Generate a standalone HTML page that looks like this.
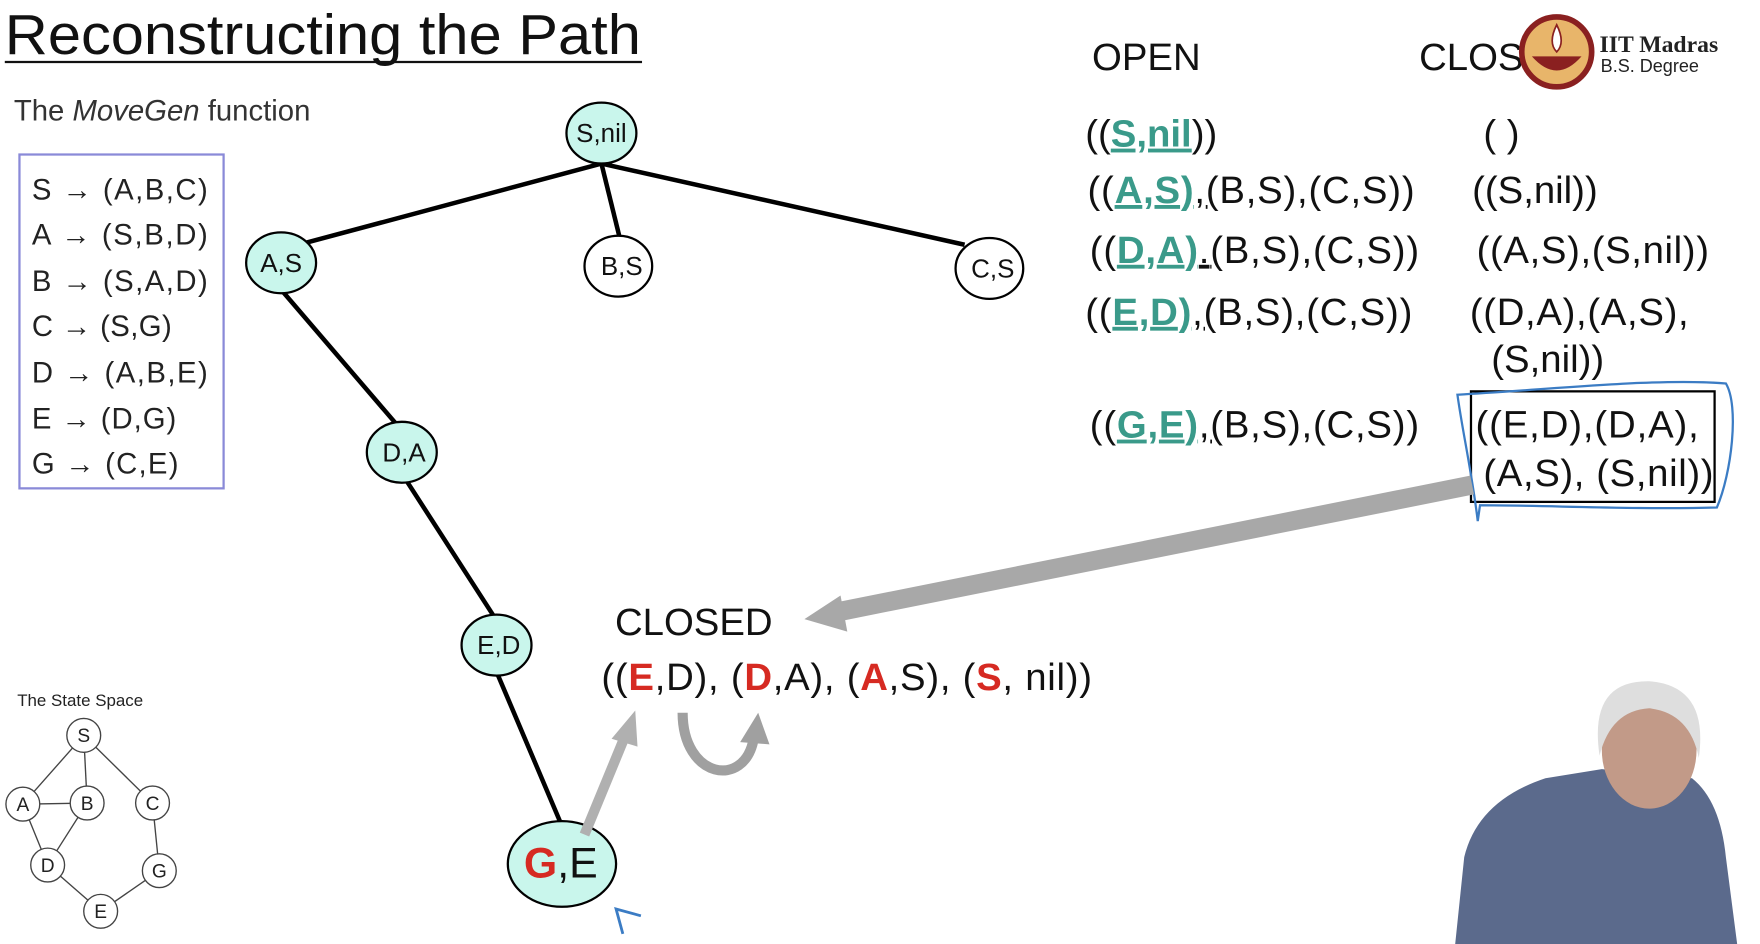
<!DOCTYPE html>
<html><head><meta charset="utf-8"><style>
html,body{margin:0;padding:0;background:#fff;width:1760px;height:944px;overflow:hidden}
svg{display:block}
text{font-family:"Liberation Sans",Arial,sans-serif}
</style></head><body>
<svg width="1760" height="944" viewBox="0 0 1560 837" xmlns="http://www.w3.org/2000/svg">
<rect width="1560" height="837" fill="#fff"/>
<text x="4" y="48" font-size="50" fill="#111" textLength="564" lengthAdjust="spacingAndGlyphs">Reconstructing the Path</text>
<line x1="4" y1="55" x2="569" y2="55" stroke="#111" stroke-width="2"/>
<text x="12" y="107" font-size="26" fill="#333">The <tspan font-style="italic">MoveGen</tspan> function</text>
<rect x="17" y="137" width="181" height="296" fill="#fff" stroke="#8a8ad8" stroke-width="2"/>
<g font-size="26" fill="#222">
<text x="28" y="177" textLength="156">S <tspan font-weight="bold">→</tspan> (A,B,C)</text>
<text x="28" y="217" textLength="156">A <tspan font-weight="bold">→</tspan> (S,B,D)</text>
<text x="28" y="258" textLength="156">B <tspan font-weight="bold">→</tspan> (S,A,D)</text>
<text x="28" y="298" textLength="124">C <tspan font-weight="bold">→</tspan> (S,G)</text>
<text x="28" y="339" textLength="156">D <tspan font-weight="bold">→</tspan> (A,B,E)</text>
<text x="28" y="380" textLength="128">E <tspan font-weight="bold">→</tspan> (D,G)</text>
<text x="28" y="420" textLength="130">G <tspan font-weight="bold">→</tspan> (C,E)</text>
</g>
<!-- tree edges -->
<g stroke="#000" stroke-width="4">
<line x1="533" y1="145" x2="272" y2="215"/>
<line x1="533" y1="145" x2="549" y2="210"/>
<line x1="533" y1="145" x2="855" y2="217"/>
<line x1="250" y1="258" x2="352" y2="377"/>
<line x1="360" y1="426" x2="438" y2="547"/>
<line x1="441" y1="598" x2="497" y2="730"/>
</g>
<g stroke="#000" stroke-width="2" font-size="24" text-anchor="middle">
<ellipse cx="533" cy="118" rx="31" ry="27" fill="#c9f6ec"/>
<ellipse cx="249" cy="233" rx="31" ry="27" fill="#c9f6ec"/>
<ellipse cx="548" cy="236" rx="30" ry="27" fill="#fff"/>
<ellipse cx="877" cy="238" rx="30" ry="27" fill="#fff"/>
<ellipse cx="356" cy="401" rx="31" ry="27" fill="#c9f6ec"/>
<ellipse cx="440" cy="572" rx="31" ry="27" fill="#c9f6ec"/>
<ellipse cx="498" cy="766" rx="48" ry="38" fill="#c9f6ec"/>
</g>
<g font-size="23" text-anchor="middle" fill="#111">
<text x="533" y="126">S,nil</text>
<text x="249" y="241">A,S</text>
<text x="551" y="244">B,S</text>
<text x="880" y="246">C,S</text>
<text x="358" y="409">D,A</text>
<text x="442" y="580">E,D</text>
<text x="497" y="778" font-size="38"><tspan fill="#d62a22" font-weight="bold">G</tspan>,E</text>
</g>
<!-- OPEN/CLOSED -->
<text x="968" y="62" font-size="34" fill="#111">OPEN</text>
<text x="1258" y="62" font-size="34" fill="#111">CLOS</text>
<g font-size="34" fill="#111">
<text x="962" y="130">((<tspan fill="#3a9a8a" font-weight="bold" text-decoration="underline">S,nil</tspan>))</text>
<text x="964" y="180" textLength="290">((<tspan fill="#3a9a8a" font-weight="bold" text-decoration="underline">A,S)</tspan><tspan text-decoration="underline">,(</tspan>B,S),(C,S))</text>
<text x="966" y="233" textLength="292">((<tspan fill="#3a9a8a" font-weight="bold" text-decoration="underline">D,A)</tspan><tspan text-decoration="underline">.(</tspan>B,S),(C,S))</text>
<text x="962" y="288" textLength="290">((<tspan fill="#3a9a8a" font-weight="bold" text-decoration="underline">E,D)</tspan><tspan text-decoration="underline">,(</tspan>B,S),(C,S))</text>
<text x="966" y="388" textLength="292">((<tspan fill="#3a9a8a" font-weight="bold" text-decoration="underline">G,E)</tspan><tspan text-decoration="underline">,(</tspan>B,S),(C,S))</text>
<text x="1315" y="130">( )</text>
<text x="1305" y="180">((S,nil))</text>
<text x="1309" y="233" textLength="206">((A,S),(S,nil))</text>
<text x="1303" y="288" textLength="194">((D,A),(A,S),</text>
<text x="1322" y="330">(S,nil))</text>
<text x="1308" y="388" textLength="198">((E,D),(D,A),</text>
<text x="1315" y="431" textLength="204">(A,S), (S,nil))</text>
</g>
<rect x="1304" y="347" width="216" height="98" fill="none" stroke="#000" stroke-width="2"/>
<path d="M1292,350 C1380,345 1470,335 1530,340 C1542,360 1535,420 1522,450 C1450,452 1370,448 1312,448 L1310,462 C1305,420 1296,380 1292,350 Z" fill="none" stroke="#3b7cc4" stroke-width="2"/>
<!-- logo -->
<circle cx="1380" cy="46" r="31" fill="#e8b56a" stroke="#8a2020" stroke-width="5"/>
<path d="M1358,50 Q1380,75 1402,50 Z" fill="#8a2020"/>
<path d="M1380,22 Q1372,38 1380,46 Q1388,38 1380,22 Z" fill="#fff" stroke="#8a2020" stroke-width="1.5"/>
<text x="1418" y="46" font-size="21" style="font-family:'Liberation Serif',serif;font-weight:bold" fill="#222">IIT Madras</text>
<text x="1419" y="64" font-size="16" fill="#222">B.S. Degree</text>
<!-- big arrow -->
<line x1="1305" y1="430" x2="745" y2="542" stroke="#a8a8a8" stroke-width="17"/>
<polygon points="713,549 745,528 751,560" fill="#a8a8a8"/>
<text x="545" y="563" font-size="34" fill="#111">CLOSED</text>
<text x="533" y="612" font-size="34" fill="#111" textLength="435">((<tspan fill="#d62a22" font-weight="bold">E</tspan>,D), (<tspan fill="#d62a22" font-weight="bold">D</tspan>,A), (<tspan fill="#d62a22" font-weight="bold">A</tspan>,S), (<tspan fill="#d62a22" font-weight="bold">S</tspan>, nil))</text>
<!-- small arrows -->
<line x1="518" y1="740" x2="553" y2="655" stroke="#b0b0b0" stroke-width="9"/>
<polygon points="563,630 542,655 565,662" fill="#b0b0b0"/>
<path d="M605,632 C605,690 660,700 668,655" fill="none" stroke="#a0a0a0" stroke-width="9"/>
<polygon points="672,632 656,658 682,660" fill="#a0a0a0"/>
<path d="M552,828 L546,806 L568,812" stroke="#3b7cc4" stroke-width="2.5" fill="none"/>
<!-- state space -->
<text x="15" y="626" font-size="15" fill="#222">The State Space</text>
<g stroke="#444" stroke-width="1.2">
<line x1="74" y1="652" x2="20" y2="713"/><line x1="74" y1="652" x2="77" y2="712"/><line x1="74" y1="652" x2="135" y2="712"/>
<line x1="20" y1="713" x2="77" y2="712"/><line x1="20" y1="713" x2="42" y2="767"/><line x1="77" y1="712" x2="42" y2="767"/>
<line x1="135" y1="712" x2="141" y2="772"/><line x1="42" y1="767" x2="89" y2="808"/><line x1="141" y1="772" x2="89" y2="808"/>
</g>
<g stroke="#444" stroke-width="1.2" fill="#fff">
<circle cx="74" cy="652" r="15"/><circle cx="20" cy="713" r="15"/><circle cx="77" cy="712" r="15"/><circle cx="135" cy="712" r="15"/>
<circle cx="42" cy="767" r="15"/><circle cx="141" cy="772" r="15"/><circle cx="89" cy="808" r="15"/>
</g>
<g font-size="17" text-anchor="middle" fill="#222">
<text x="74" y="658">S</text><text x="20" y="719">A</text><text x="77" y="718">B</text><text x="135" y="718">C</text>
<text x="42" y="773">D</text><text x="141" y="778">G</text><text x="89" y="814">E</text>
</g>
<!-- presenter -->
<path d="M1290,837 L1298,760 Q1310,710 1370,690 L1420,682 L1500,690 Q1525,710 1530,760 L1540,837 Z" fill="#5b6a8c"/>
<ellipse cx="1462" cy="665" rx="42" ry="52" fill="#c29a88"/>
<path d="M1418,670 Q1408,603 1462,604 Q1515,608 1506,672 Q1498,632 1462,628 Q1428,630 1418,670 Z" fill="#dedede"/>
</svg>
</body></html>
